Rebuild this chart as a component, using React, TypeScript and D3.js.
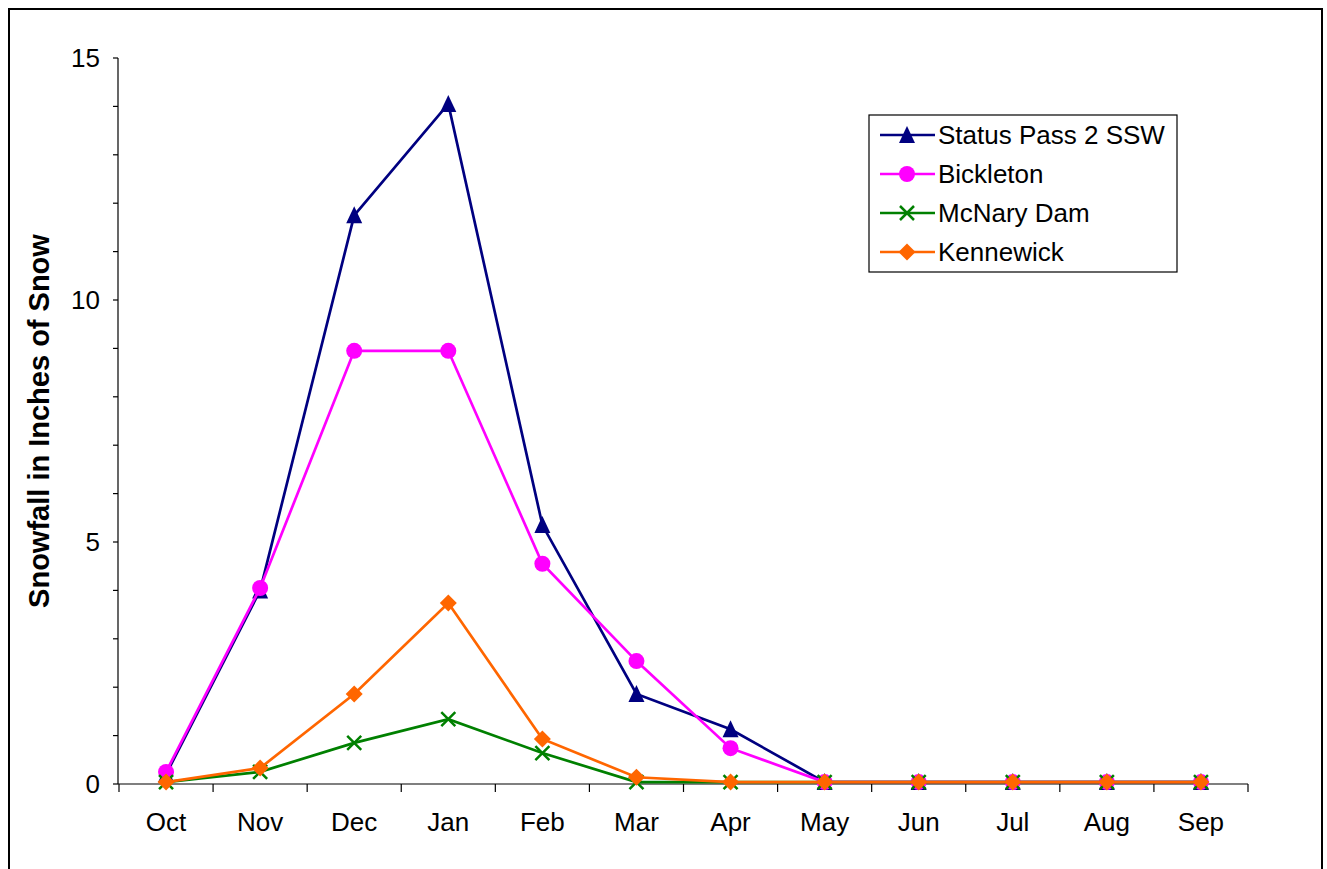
import React from "react";
import * as d3 from "d3";

const months = ["Oct", "Nov", "Dec", "Jan", "Feb", "Mar", "Apr", "May", "Jun", "Jul", "Aug", "Sep"];
const statusPass = [0.2, 4.0, 11.75, 14.05, 5.35, 1.86, 1.13, 0.04, 0.04, 0.04, 0.04, 0.04];
const bickleton = [0.25, 4.05, 8.95, 8.95, 4.55, 2.54, 0.74, 0.04, 0.04, 0.04, 0.04, 0.04];
const mcnary = [0.04, 0.25, 0.85, 1.34, 0.64, 0.04, 0.04, 0.04, 0.04, 0.04, 0.04, 0.04];
const kennewick = [0.04, 0.33, 1.86, 3.74, 0.93, 0.14, 0.04, 0.04, 0.04, 0.04, 0.04, 0.04];
const yTicks = [0, 5, 10, 15];

const series = [
  { name: "Status Pass 2 SSW", values: statusPass, color: "#000080", marker: "triangle" },
  { name: "Bickleton", values: bickleton, color: "#FF00FF", marker: "circle" },
  { name: "McNary Dam", values: mcnary, color: "#008000", marker: "x" },
  { name: "Kennewick", values: kennewick, color: "#FF6600", marker: "diamond" },
];

const W = 1327, H = 869;
const left = 119, right = 1248, top = 58, bottom = 784;

function Marker({ type, x, y, color }: { type: string; x: number; y: number; color: string }) {
  if (type === "triangle") {
    return <path d={`M${x},${y - 9}L${x + 8},${y + 8}L${x - 8},${y + 8}Z`} fill={color} />;
  }
  if (type === "circle") {
    return <circle cx={x} cy={y} r={8} fill={color} />;
  }
  if (type === "x") {
    return (
      <path d={`M${x - 7},${y - 7}L${x + 7},${y + 7}M${x - 7},${y + 7}L${x + 7},${y - 7}`} stroke={color} strokeWidth={2.5} />
    );
  }
  return <path d={`M${x},${y - 8.5}L${x + 8.5},${y}L${x},${y + 8.5}L${x - 8.5},${y}Z`} fill={color} />;
}

export default function App() {
  const x = d3.scaleBand<string>().domain(months).range([left, right]);
  const y = d3.scaleLinear().domain([0, 15]).range([bottom, top]);
  const cx = (m: string) => (x(m) as number) + x.bandwidth() / 2;
  const line = d3
    .line<number>()
    .x((_, i) => cx(months[i]))
    .y((v) => y(v));
  const minor = d3.range(0, 16, 1);
  const font = "'Liberation Sans', Arial, sans-serif";
  const bandEdges = months.map((m) => x(m) as number).concat([right]);

  return (
    <svg width={W} height={H} style={{ display: "block", position: "absolute", left: 0, top: 0 }} fontFamily={font}>
      <rect x={0} y={0} width={W} height={H} fill="#fff" />
      <path d={`M9,${H + 5}V9H1322V${H + 5}`} fill="none" stroke="#000" strokeWidth={2} />
      {/* y axis */}
      <line x1={left - 1} x2={left - 1} y1={top} y2={bottom} stroke="#000" strokeWidth={1.2} />
      {minor.map((t) => (
        <line key={t} x1={left - 6} x2={left - 1} y1={y(t)} y2={y(t)} stroke="#000" strokeWidth={1.2} />
      ))}
      {yTicks.map((t) => (
        <text key={t} x={100} y={y(t) + 9.3} fontSize={26} textAnchor="end">
          {t}
        </text>
      ))}
      {/* x axis */}
      <line x1={left - 1} x2={right} y1={bottom} y2={bottom} stroke="#000" strokeWidth={1.2} />
      {bandEdges.map((e, i) => (
        <line key={i} x1={e} x2={e} y1={bottom} y2={bottom + 8} stroke="#000" strokeWidth={1.2} />
      ))}
      {months.map((m) => (
        <text key={m} x={cx(m)} y={831} fontSize={26} textAnchor="middle">
          {m}
        </text>
      ))}
      <text
        transform={`translate(49,421) rotate(-90)`}
        fontSize={29}
        fontWeight="bold"
        textAnchor="middle"
      >
        Snowfall in Inches of Snow
      </text>
      {/* series */}
      {series.map((s) => (
        <g key={s.name}>
          <path d={line(s.values) || ""} fill="none" stroke={s.color} strokeWidth={2.7} />
          {s.values.map((v, i) => (
            <Marker key={i} type={s.marker} x={cx(months[i])} y={y(v)} color={s.color} />
          ))}
        </g>
      ))}
      {/* legend */}
      <rect x={869} y={115} width={308} height={157} fill="#fff" stroke="#000" strokeWidth={1.2} />
      {series.map((s, i) => {
        const ly = 135 + i * 39;
        return (
          <g key={s.name}>
            <line x1={880} x2={935} y1={ly} y2={ly} stroke={s.color} strokeWidth={2.7} />
            <Marker type={s.marker} x={907} y={ly} color={s.color} />
            <text x={938} y={ly + 9.3} fontSize={26}>
              {s.name}
            </text>
          </g>
        );
      })}
    </svg>
  );
}
